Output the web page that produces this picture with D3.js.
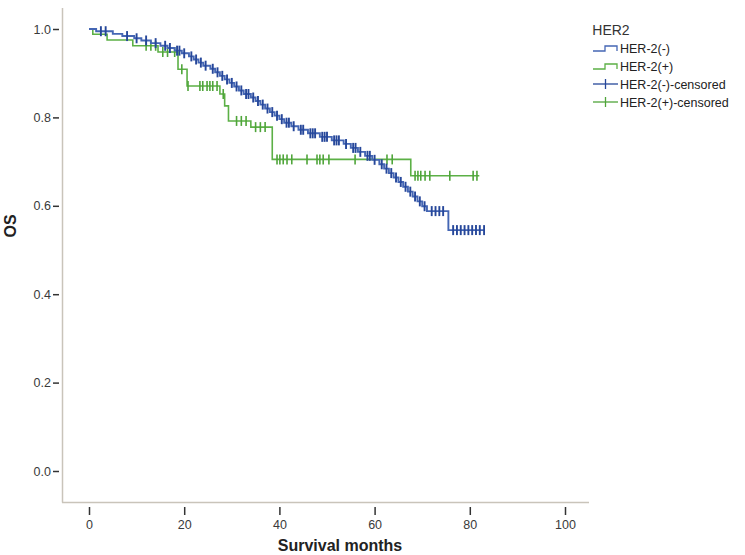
<!DOCTYPE html>
<html><head><meta charset="utf-8">
<script src="https://cdn.jsdelivr.net/npm/d3@7"></script>
<style>body{margin:0;background:#fff;}svg{display:block;font-family:"Liberation Sans",Arial,sans-serif;}</style>
</head><body>
<svg id="c" width="745" height="555"></svg>
<script>
// ---- data ----
const seriesNames = ["HER-2(-)", "HER-2(+)"];
const xTicks = [0, 20, 40, 60, 80, 100];
const yTicks = [0.0, 0.2, 0.4, 0.6, 0.8, 1.0];

// HER-2(-): [time, survival after the drop]
const negSteps = [[0,1.0],[1.5,0.995],[5,0.989],[7,0.984],[9.5,0.979],[11,0.974],[13,0.968],[15,0.962],[16.5,0.957],[18,0.951],[19.5,0.945],[21,0.938],[22,0.931],[23,0.924],[24,0.917],[25.5,0.910],[26.5,0.902],[27.5,0.894],[28.5,0.886],[29.5,0.878],[30.5,0.870],[31.5,0.861],[32.5,0.853],[34,0.845],[35,0.837],[36,0.829],[37,0.820],[38,0.812],[39,0.804],[40,0.796],[41,0.788],[42.5,0.780],[44,0.772],[46,0.764],[48.5,0.756],[51,0.748],[53.5,0.740],[55,0.731],[56.5,0.722],[58,0.713],[59.5,0.704],[61,0.694],[62,0.684],[63,0.674],[64,0.664],[65,0.654],[66,0.643],[67,0.632],[68,0.621],[69,0.610],[70,0.599],[71,0.588],[75.5,0.545]];
const negEnd = 83;
const negCensored = [2.5,3.5,8,10,12,14,16,17,18.5,19,20,21.5,22.5,23.5,24.5,26,27,28,29,30,31,32,33,33.5,34.5,35.5,36.5,37.5,38.5,39.5,40.5,41.5,42,43,44.5,45,46.5,47,47.5,49,49.5,50,51.5,52,52.5,54,55.5,56,57,58.5,59,60,61.5,62.5,63.5,64.5,65.5,66.5,67.5,68.5,69.5,70.5,72,72.8,73.6,74.4,76.5,77.3,78.1,78.9,79.7,80.5,81.3,82.1,83];

// HER-2(+)
const posSteps = [[0,1.0],[0.8,0.988],[3.8,0.975],[9.2,0.962],[14.5,0.948],[18.7,0.909],[20.6,0.871],[27.5,0.853],[28.5,0.826],[29.3,0.792],[34,0.778],[38.5,0.705],[67.6,0.668]];
const posEnd = 82;
const posCensored = [12,13,14,15.5,16.5,18,19.5,20.8,23.3,23.9,24.8,25.4,26.0,26.9,28.2,31,32,33,35,36,37,39.5,40.1,40.8,41.6,42.6,45.8,47.9,48.5,49.2,50.4,55.9,62.6,63.7,68.5,69.1,69.7,70.6,71.6,75.8,80.7,81.5];

const colors = {neg:"#4466b4", negMark:"#26479a", pos:"#5cb046", posMark:"#4fa53a"};

// ---- chart ----
const svg = d3.select("#c");
const x = d3.scaleLinear().domain([0,100]).range([89,565]);
const y = d3.scaleLinear().domain([0,1]).range([471,29]);

// axis lines
svg.append("line").attr("x1",62.5).attr("x2",62.5).attr("y1",8).attr("y2",502.5).attr("stroke","#c9c4ba").attr("stroke-width",1.5);
svg.append("line").attr("x1",62).attr("x2",589).attr("y1",502.5).attr("y2",502.5).attr("stroke","#c9c4ba").attr("stroke-width",1.5);

// y ticks
const yAx = d3.axisLeft(y).tickValues(yTicks).tickFormat(d3.format(".1f")).tickSize(6).tickPadding(2);
const gy = svg.append("g").attr("transform","translate(59,0)").call(yAx);
gy.select(".domain").remove();
gy.selectAll(".tick line").attr("stroke","#333").attr("stroke-width",1.5);
gy.selectAll("text").attr("font-size",12.5).attr("fill","#3a3a3a").attr("font-family","Liberation Sans, Arial, sans-serif");

// x ticks
const xAx = d3.axisBottom(x).tickValues(xTicks).tickFormat(d3.format("d")).tickSize(8).tickPadding(5);
const gx = svg.append("g").attr("transform","translate(0,507)").call(xAx);
gx.select(".domain").remove();
gx.selectAll(".tick line").attr("stroke","#333").attr("stroke-width",1.5);
gx.selectAll("text").attr("font-size",12.5).attr("fill","#3a3a3a").attr("font-family","Liberation Sans, Arial, sans-serif");

// axis titles
svg.append("text").attr("x",340).attr("y",551).attr("text-anchor","middle").attr("font-size",16).attr("font-weight","bold").attr("fill","#222").text("Survival months");
svg.append("text").attr("transform","translate(16,226) rotate(-90)").attr("text-anchor","middle").attr("font-size",16).attr("font-weight","bold").attr("fill","#222").text("OS");

// step paths
function stepPoints(steps, end){
  const pts = steps.map(d=>[d[0],d[1]]);
  pts.push([end, steps[steps.length-1][1]]);
  return pts;
}
const line = d3.line().x(d=>x(d[0])).y(d=>y(d[1])).curve(d3.curveStepAfter);
function survAt(steps, t){
  let s = steps[0][1];
  for(const d of steps){ if(d[0] <= t) s = d[1]; }
  return s;
}
function drawSeries(steps, end, cens, col, markCol, w){
  svg.append("path").datum(stepPoints(steps,end)).attr("d",line).attr("fill","none").attr("stroke",col).attr("stroke-width",w);
  svg.append("g").selectAll("line").data(cens).join("line")
    .attr("x1",d=>x(d)).attr("x2",d=>x(d))
    .attr("y1",d=>y(survAt(steps,d))-5).attr("y2",d=>y(survAt(steps,d))+5)
    .attr("stroke",markCol).attr("stroke-width",w);
}
drawSeries(posSteps,posEnd,posCensored,colors.pos,colors.posMark,1.6);
drawSeries(negSteps,negEnd,negCensored,colors.neg,colors.negMark,1.9);

// legend
const lg = svg.append("g");
lg.append("text").attr("x",611).attr("y",35).attr("text-anchor","middle").attr("font-size",14).attr("fill","#333").text("HER2");
const legendItems = [
  {label:"HER-2(-)", col:colors.neg, type:"step"},
  {label:"HER-2(+)", col:colors.pos, type:"step"},
  {label:"HER-2(-)-censored", col:colors.negMark, type:"cens"},
  {label:"HER-2(+)-censored", col:colors.posMark, type:"cens"}
];
legendItems.forEach((it,i)=>{
  const cy = 48 + i*18;
  if(it.type==="step"){
    lg.append("path").attr("d",`M593,${cy+3}H605V${cy-2}H617V${cy+3}`).attr("fill","none").attr("stroke",it.col).attr("stroke-width",1.3);
  } else {
    lg.append("line").attr("x1",593).attr("x2",618).attr("y1",cy).attr("y2",cy).attr("stroke",it.col).attr("stroke-width",1.3);
    lg.append("line").attr("x1",605.5).attr("x2",605.5).attr("y1",cy-5).attr("y2",cy+5).attr("stroke",it.col).attr("stroke-width",1.3);
  }
  lg.append("text").attr("x",620).attr("y",cy+4.5).attr("font-size",12.5).attr("fill","#222").text(it.label);
});
</script>
</body></html>
